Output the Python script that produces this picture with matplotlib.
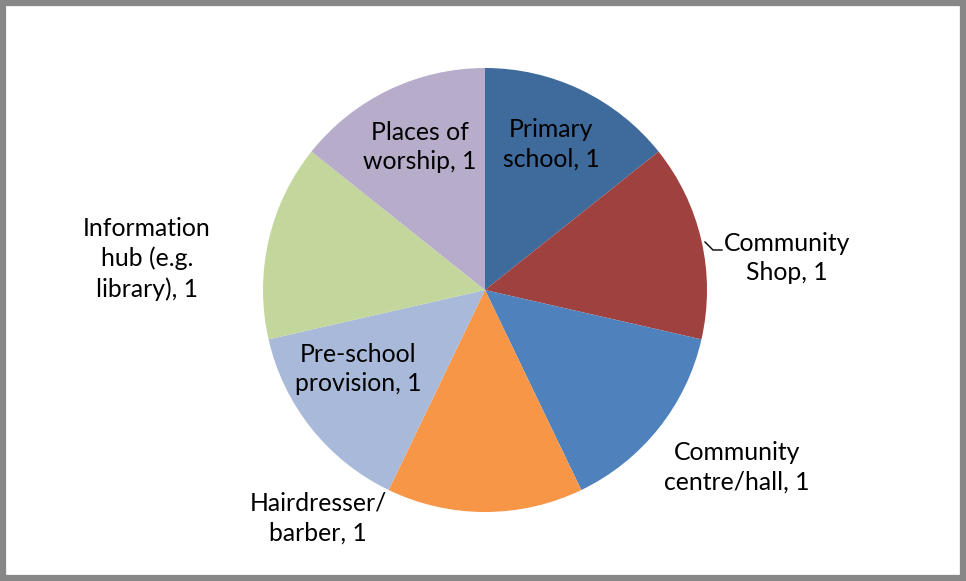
import matplotlib.pyplot as plt

# Services available in the community (one of each)
services = [
    "Primary\nschool, 1",
    "Community\nShop, 1",
    "Community\ncentre/hall, 1",
    "Hairdresser/\nbarber, 1",
    "Pre-school\nprovision, 1",
    "Information\nhub (e.g.\nlibrary), 1",
    "Places of\nworship, 1",
]
counts = [1, 1, 1, 1, 1, 1, 1]
colors = ["#3F6A9C", "#9E413F", "#4F81BD", "#F79646", "#A9B9D9", "#C3D69B", "#B7ADCB"]

# label anchor points (pixel space, y measured from the top)
label_xy = [(551, 144), (787, 258), (737, 467), (318, 518), (358, 369), (147, 259), (420, 147)]

W, H = 966, 581
fig = plt.figure(figsize=(W / 100, H / 100), dpi=100)
ax = fig.add_axes([0, 0, 1, 1])

cx, cy, r = 485, H - 290, 222
ax.pie(counts, colors=colors, startangle=90, counterclock=False,
       center=(cx, cy), radius=r, frame=True,
       wedgeprops=dict(linewidth=0))
ax.set_xlim(0, W)
ax.set_ylim(0, H)
ax.set_aspect("equal")
ax.axis("off")

for text, (x, y) in zip(services, label_xy):
    ax.text(x, H - y, text, ha="center", va="center", fontsize=17.8,
            family="Lato", linespacing=1.36, color="black")

# leader line for the Community Shop label
ax.plot([705, 713, 722], [H - 242, H - 250, H - 250], color="black", lw=1)

# outer chart border
border = plt.Rectangle((3, 3), W - 6, H - 6, fill=False, edgecolor="#878787",
                       linewidth=4.5, transform=ax.transData)
ax.add_patch(border)

fig.savefig("out.png", dpi=100)
